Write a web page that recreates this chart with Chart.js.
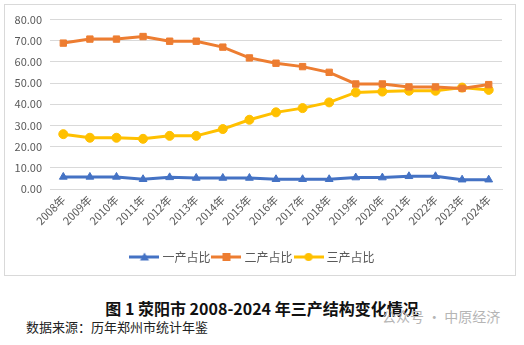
<!DOCTYPE html>
<html>
<head>
<meta charset="utf-8">
<script src="https://cdn.jsdelivr.net/npm/chart.js@4.4.1/dist/chart.umd.min.js"></script>
<style>
  body { margin: 0; background: #fff; width: 524px; height: 345px; overflow: hidden; position: relative; font-family: "Noto Sans CJK SC", sans-serif; }
  #box { position: absolute; left: 4px; top: 4px; width: 510px; height: 270px; border: 1px solid #d9d9d9; }
  #title { position: absolute; left: 0; width: 524px; top: 298px; text-align: center; font-size: 16px; font-weight: bold; color: #111; line-height: 20px; }
  #source { position: absolute; left: 26px; top: 318px; font-size: 13px; color: #222; line-height: 18px; }
  #mark { position: absolute; left: 382px; top: 307px; font-size: 14px; color: #b5b5b5; line-height: 18px; }
</style>
</head>
<body>
<div id="box"><canvas id="chart" width="510" height="270"></canvas></div>
<div id="title">图 1 荥阳市 2008-2024 年三产结构变化情况</div>
<div id="mark">公众号 · 中原经济</div>
<div id="source">数据来源：历年郑州市统计年鉴</div>
<script>
const years = ['2008年', '2009年', '2010年', '2011年', '2012年', '2013年', '2014年', '2015年', '2016年',
  '2017年', '2018年', '2019年', '2020年', '2021年', '2022年', '2023年', '2024年'];
const primaryShare = [5.7, 5.7, 5.7, 4.6, 5.5, 5.2, 5.2, 5.2, 4.6, 4.6, 4.6, 5.4, 5.4, 6.0, 6.0, 4.4, 4.4];
const secondaryShare = [68.9, 70.8, 70.8, 72.0, 69.8, 69.8, 67.0, 61.9, 59.4, 57.8, 55.1, 49.6, 49.6, 48.2, 48.2, 47.5, 49.3];
const tertiaryShare = [25.9, 24.2, 24.2, 23.7, 25.1, 25.1, 28.3, 32.7, 36.2, 38.2, 40.9, 45.6, 46.0, 46.4, 46.4, 47.9, 46.8];
const seriesNames = ['一产占比', '二产占比', '三产占比'];
const seriesColors = ['#4472C4', '#ED7D31', '#FFC000'];
const seriesMarkers = ['triangle', 'rect', 'circle'];

const textColor = '#595959';
const fontFamily = '"Noto Sans CJK SC", sans-serif';

// legend swatch: short line with the marker in the middle
function legendSwatch(color, marker) {
  const c = document.createElement('canvas');
  c.width = 30; c.height = 10;
  const g = c.getContext('2d');
  g.strokeStyle = color;
  g.lineWidth = 3;
  g.beginPath(); g.moveTo(0, 5); g.lineTo(30, 5); g.stroke();
  g.fillStyle = color;
  g.beginPath();
  if (marker === 'triangle') { g.moveTo(15, 0.5); g.lineTo(19.5, 8.5); g.lineTo(10.5, 8.5); g.closePath(); }
  else if (marker === 'rect') { g.rect(11, 1, 8, 8); }
  else { g.arc(15, 5, 4, 0, Math.PI * 2); }
  g.fill();
  return c;
}

const datasets = [primaryShare, secondaryShare, tertiaryShare].map((vals, i) => ({
  label: seriesNames[i],
  data: vals,
  borderColor: seriesColors[i],
  backgroundColor: seriesColors[i],
  borderWidth: 3,
  pointStyle: seriesMarkers[i],
  pointRadius: 4.5,
  pointBorderWidth: 1,
  tension: 0,
  swatch: legendSwatch(seriesColors[i], seriesMarkers[i])
}));

new Chart(document.getElementById('chart'), {
  type: 'line',
  data: { labels: years, datasets: datasets },
  options: {
    responsive: false,
    animation: false,
    devicePixelRatio: 1,
    layout: { padding: { top: 14, right: 13, left: 0, bottom: 2 } },
    scales: {
      x: {
        offset: true,
        grid: { display: false, drawTicks: false },
        border: { color: '#d9d9d9' },
        ticks: { color: textColor, font: { family: fontFamily, size: 11 }, minRotation: 45, maxRotation: 45, padding: 4, autoSkip: false },
        afterFit: s => { s.height = 58; }
      },
      y: {
        min: 0, max: 80,
        grid: { color: '#d9d9d9', drawTicks: false },
        border: { display: false },
        ticks: { stepSize: 10, color: textColor, padding: 8, font: { family: fontFamily, size: 11 },
          callback: v => v.toFixed(2) },
        afterFit: s => { s.width = 45; }
      }
    },
    plugins: {
      legend: {
        position: 'bottom',
        labels: {
          usePointStyle: true,
          pointStyleWidth: 24,
          padding: 4,
          color: textColor,
          font: { family: fontFamily, size: 12 },
          generateLabels: chart => chart.data.datasets.map((ds, i) => ({
            text: ds.label,
            pointStyle: ds.swatch,
            fillStyle: ds.borderColor,
            strokeStyle: ds.borderColor,
            fontColor: textColor,
            lineWidth: 0,
            datasetIndex: i
          }))
        }
      },
      tooltip: { enabled: false }
    }
  }
});
</script>
</body>
</html>
